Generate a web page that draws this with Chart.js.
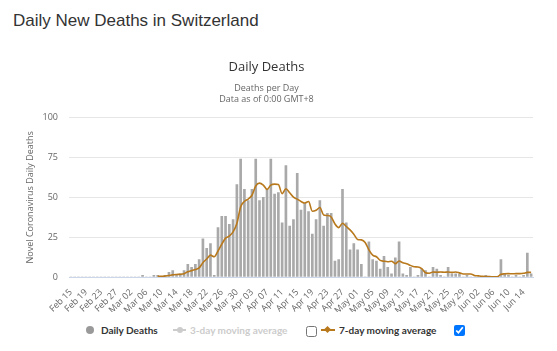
<!DOCTYPE html>
<html>
<head>
<meta charset="utf-8">
<script src="https://cdn.jsdelivr.net/npm/chart.js@4"></script>
<style>
  body { margin: 0; background: #fff; width: 557px; height: 351px; overflow: hidden; position: relative; }
  h1 { position: absolute; left: 13px; top: 11px; margin: 0; font: 17px "Liberation Sans", Arial, sans-serif; color: #333; }
  #wrap { position: absolute; left: 0; top: 50px; width: 557px; height: 262px; }
  .leg { position: absolute; top: 324px; font: bold 10px Lato, sans-serif; color: #333; white-space: nowrap; line-height: 12px; }
  .sym { position: absolute; }
  input { position: absolute; margin: 0; width: 11px; height: 11px; }
</style>
</head>
<body>
<h1>Daily New Deaths in Switzerland</h1>
<div id="wrap"><canvas id="deathChart" width="557" height="262"></canvas></div>

<!-- legend -->
<div class="sym" style="left:86px;top:326px;width:8px;height:8px;border-radius:50%;background:#999"></div>
<div class="leg" style="left:101px">Daily Deaths</div>
<div class="sym" style="left:173px;top:329px;width:13px;height:2px;background:#ccc"></div>
<div class="sym" style="left:177px;top:327px;width:6px;height:6px;border-radius:50%;background:#ccc"></div>
<div class="leg" style="left:190px;color:#ccc">3-day moving average</div>
<input type="checkbox" style="left:306px;top:326px">
<div class="sym" style="left:321px;top:329px;width:14px;height:2px;background:#b8781c"></div>
<div class="sym" style="left:325px;top:327px;width:5px;height:5px;background:#b8781c;transform:rotate(45deg)"></div>
<div class="leg" style="left:339px">7-day moving average</div>
<input type="checkbox" checked style="left:454px;top:325px">

<script>
// Dates, Feb 15 - Jun 16
const dayLabels = [
  "Feb 15","Feb 16","Feb 17","Feb 18","Feb 19","Feb 20","Feb 21","Feb 22","Feb 23","Feb 24","Feb 25","Feb 26","Feb 27","Feb 28","Feb 29",
  "Mar 01","Mar 02","Mar 03","Mar 04","Mar 05","Mar 06","Mar 07","Mar 08","Mar 09","Mar 10","Mar 11","Mar 12","Mar 13","Mar 14","Mar 15","Mar 16",
  "Mar 17","Mar 18","Mar 19","Mar 20","Mar 21","Mar 22","Mar 23","Mar 24","Mar 25","Mar 26","Mar 27","Mar 28","Mar 29","Mar 30","Mar 31",
  "Apr 01","Apr 02","Apr 03","Apr 04","Apr 05","Apr 06","Apr 07","Apr 08","Apr 09","Apr 10","Apr 11","Apr 12","Apr 13","Apr 14","Apr 15",
  "Apr 16","Apr 17","Apr 18","Apr 19","Apr 20","Apr 21","Apr 22","Apr 23","Apr 24","Apr 25","Apr 26","Apr 27","Apr 28","Apr 29","Apr 30",
  "May 01","May 02","May 03","May 04","May 05","May 06","May 07","May 08","May 09","May 10","May 11","May 12","May 13","May 14","May 15","May 16",
  "May 17","May 18","May 19","May 20","May 21","May 22","May 23","May 24","May 25","May 26","May 27","May 28","May 29","May 30","May 31",
  "Jun 01","Jun 02","Jun 03","Jun 04","Jun 05","Jun 06","Jun 07","Jun 08","Jun 09","Jun 10","Jun 11","Jun 12","Jun 13","Jun 14","Jun 15","Jun 16"
];

const dailyDeaths = [
  0,0,0,0,0,0,0,0,0,0,0,0,0,0,0,
  0,0,0,0,1,0,0,1,1,0,1,3,4,1,2,4,8,6,8,11,24,18,21,1,31,38,38,33,36,58,74,
  55,48,55,74,48,50,55,74,52,53,34,70,32,36,65,42,46,41,27,36,48,32,40,40,10,11,55,34,17,21,
  17,8,0,22,11,10,5,13,6,2,12,22,2,1,6,0,1,5,4,0,6,5,1,0,6,2,2,2,0,1,0,
  0,0,0,1,0,0,0,11,2,1,0,1,0,1,15,2
];

const avg7 = [
  null,null,null,null,null,null,null,null,null,null,null,null,null,null,null,
  null,null,null,null,null,null,null,null,
  0.4,0.4,0.6,0.9,1.4,1.6,1.7,2.1,3.3,4.0,4.7,5.7,9.0,11.3,13.7,12.7,16.3,20.6,24.4,25.7,28.3,33.6,44.0,
  47.4,48.9,51.3,57.1,58.9,57.7,55.0,57.7,58.3,58.0,52.3,55.4,52.9,50.1,48.9,47.4,46.4,47.4,41.3,41.9,43.6,38.9,38.6,37.7,33.3,31.0,33.7,31.7,29.6,26.9,
  23.6,23.3,21.7,17.0,13.7,12.7,10.4,9.9,9.6,9.9,8.4,10.0,8.9,8.3,7.3,6.4,6.3,5.3,2.7,2.4,3.1,3.0,3.1,3.0,3.1,2.9,3.1,2.6,1.9,1.9,1.9,
  1.0,0.7,0.4,0.3,0.3,0.1,0.1,1.7,2.0,2.1,2.0,2.1,2.1,2.3,2.9,2.9
];

const yTicks = [0, 25, 50, 75, 100];

Chart.defaults.font.family = "'Open Sans', sans-serif";

const ctx = document.getElementById("deathChart").getContext("2d");
new Chart(ctx, {
  data: {
    labels: dayLabels,
    datasets: [
      {
        type: "line",
        label: "7-day moving average",
        data: avg7,
        borderColor: "#b8781c",
        borderWidth: 1.6,
        pointRadius: 0,
        cubicInterpolationMode: "monotone",
        order: 0
      },
      {
        type: "bar",
        label: "Daily Deaths",
        data: dailyDeaths,
        backgroundColor: "#a9a9a9",
        barThickness: 2,
        order: 1
      }
    ]
  },
  options: {
    responsive: false,
    animation: false,
    devicePixelRatio: 1,
    layout: { padding: { left: 0, right: 24, top: 0, bottom: 0 } },
    plugins: {
      legend: { display: false },
      tooltip: { enabled: false },
      title: {
        display: true,
        text: "Daily Deaths",
        color: "#333",
        font: { size: 13, weight: "normal" },
        padding: { top: 9, bottom: 9 }
      },
      subtitle: {
        display: true,
        text: ["Deaths per Day", "Data as of 0:00 GMT+8"],
        color: "#666",
        font: { size: 9, lineHeight: 1.17 },
        padding: { top: 0, bottom: 13 }
      }
    },
    scales: {
      x: {
        grid: { display: false },
        border: { color: "#ccd6eb" },
        ticks: {
          autoSkip: false,
          minRotation: 45,
          maxRotation: 45,
          color: "#666",
          font: { size: 9 },
          padding: 2,
          callback: function (v, i) { return i % 4 === 0 ? this.getLabelForValue(v) : ""; }
        },
        afterFit: (s) => { s.height = 35; }
      },
      y: {
        min: 0,
        max: 100,
        afterBuildTicks: (s) => { s.ticks = yTicks.map(v => ({ value: v })); },
        ticks: { color: "#666", font: { size: 9 }, padding: 11 },
        grid: { color: "#e6e6e6", drawTicks: false },
        border: { display: false },
        title: {
          display: true,
          text: "Novel Coronavirus Daily Deaths",
          color: "#666",
          font: { size: 9 },
          padding: { top: 25, bottom: 0 }
        },
        afterFit: (s) => { s.width = 69; }
      }
    }
  }
});
</script>
</body>
</html>
